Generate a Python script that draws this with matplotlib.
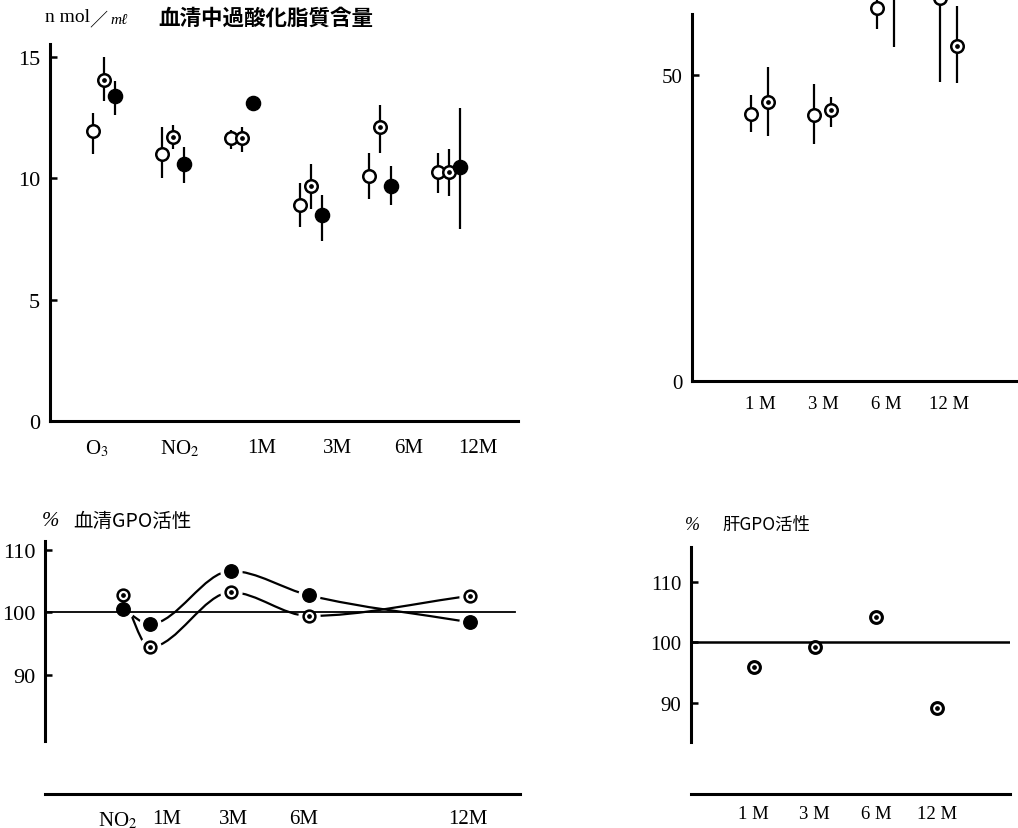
import numpy as np
import matplotlib
matplotlib.use("Agg")
import matplotlib.pyplot as plt
from matplotlib.path import Path
from matplotlib.patches import PathPatch

plt.rcParams['font.family'] = ['Liberation Serif', 'Noto Sans CJK JP']
plt.rcParams['mathtext.fontset'] = 'stix'

# --- data ---
# top-left: serum lipid peroxide (nmol/ml), groups O3, NO2, 1M, 3M, 6M, 12M
lipid_groups = ['O$_3$', 'NO$_2$', '1M', '3M', '6M', '12M']
lipid_open = [11.95, 11.0, 11.65, 8.9, 10.1, 10.25]
lipid_open_hi = [12.7, 12.1, 12.0, 9.8, 11.05, 11.05]
lipid_open_lo = [11.0, 10.0, 11.2, 8.0, 9.15, 9.4]
lipid_dot = [14.05, 11.7, 11.65, 9.7, 12.1, 10.25]
lipid_dot_hi = [15.0, 12.2, 12.1, 10.6, 13.0, 11.2]
lipid_dot_lo = [13.2, 11.2, 11.1, 8.75, 11.05, 9.25]
lipid_fill = [13.4, 10.6, 13.1, 8.5, 9.7, 10.45]
lipid_fill_hi = [14.0, 11.3, np.nan, 9.3, 10.5, 12.9]
lipid_fill_lo = [12.6, 9.8, np.nan, 7.4, 8.9, 7.9]

# top-right: 1M, 3M, 6M, 12M (top part cut off in the scan)
liver_groups = ['1 M', '3 M', '6 M', '12 M']
liver_open = [43.6, 43.5, 61.0, 62.5]
liver_open_hi = [46.7, 48.5, 64.5, 74.0]
liver_open_lo = [40.7, 38.7, 57.5, 48.9]
liver_dot = [45.6, 44.3, 66.0, 54.8]
liver_dot_hi = [51.3, 46.4, 76.0, 61.3]
liver_dot_lo = [40.0, 41.5, 54.6, 48.7]

# bottom-left: serum GPO activity (%)
serum_groups = ['NO$_2$', '1M', '3M', '6M', '12M']
serum_dot = [102.7, 94.4, 103.2, 99.4, 102.6]
serum_fill = [100.5, 98.1, 106.6, 102.7, 98.4]

# bottom-right: liver GPO activity (%)
hep_groups = ['1 M', '3 M', '6 M', '12 M']
hep_dot = [95.9, 99.2, 104.1, 89.1]

W, H = 1018, 829


def px_axes(fig, x0, y0, x1, y1):
    return fig.add_axes([x0 / W, 1 - y1 / H, (x1 - x0) / W, (y1 - y0) / H])


def style(ax, xpad=11, xsize=15, ysize=16):
    for s in ['top', 'right']:
        ax.spines[s].set_visible(False)
    ax.spines['left'].set_linewidth(2.2)
    ax.spines['bottom'].set_linewidth(2.2)
    ax.tick_params(axis='y', direction='in', length=5, width=1.8, pad=7, labelsize=ysize)
    ax.tick_params(axis='x', length=0, pad=xpad, labelsize=xsize)
    ax.patch.set_alpha(0)


def points(ax, x, y, kind, ms=9, mew=1.8):
    if kind == 'fill':
        ax.plot(x, y, 'o', ms=ms + 1.2, color='black', zorder=4)
    else:
        ax.plot(x, y, 'o', ms=ms, mfc='white', mec='black', mew=mew, zorder=4)
        if kind == 'dot':
            ax.plot(x, y, 'o', ms=2.4, color='black', zorder=5)


def bars(ax, x, lo, hi):
    ax.vlines(x, lo, hi, color='black', lw=1.6, zorder=3)


def smooth(ax, xs, ys):
    # hand-drawn looking curve: cubic pieces, flat at peaks and dips
    xs = np.asarray(xs, float)
    ys = np.asarray(ys, float)
    sec = np.diff(ys) / np.diff(xs)
    m = np.zeros(len(xs))
    m[0], m[-1] = sec[0], sec[-1]
    for i in range(1, len(xs) - 1):
        if sec[i - 1] * sec[i] > 0:
            m[i] = (sec[i - 1] + sec[i]) / 2
    verts = [(xs[0], ys[0])]
    codes = [Path.MOVETO]
    for i in range(len(xs) - 1):
        d = (xs[i + 1] - xs[i]) / 3
        verts += [(xs[i] + d, ys[i] + m[i] * d), (xs[i + 1] - d, ys[i + 1] - m[i + 1] * d),
                  (xs[i + 1], ys[i + 1])]
        codes += [Path.CURVE4] * 3
    ax.add_patch(PathPatch(Path(verts, codes), fill=False, lw=1.6, ec='black', zorder=1))


fig = plt.figure(figsize=(W / 100, H / 100), dpi=100)

# --- top-left panel ---
ax1 = px_axes(fig, 50, 45, 518, 422)
style(ax1, xpad=12)
idx = np.arange(len(lipid_groups))
bars(ax1, idx - 0.16, lipid_open_lo, lipid_open_hi)
bars(ax1, idx, lipid_dot_lo, lipid_dot_hi)
bars(ax1, idx + 0.16, lipid_fill_lo, lipid_fill_hi)
points(ax1, idx - 0.16, lipid_open, 'open')
points(ax1, idx, lipid_dot, 'dot')
points(ax1, idx + 0.16, lipid_fill, 'fill')
ax1.set_xlim(-0.78, 6.0)
ax1.set_ylim(0, 15.53)
ax1.set_yticks([0, 5, 10, 15])
ax1.set_xticks(idx + np.array([-0.1, 0.1, 0.29, 0.38, 0.41, 0.42]), lipid_groups)
fig.text(45 / W, 1 - 18 / H, 'n mol', fontsize=14, va='center')
fig.text(89 / W, 1 - 20 / H, '／', fontsize=13, va='center', family='Noto Sans CJK JP')
fig.text(110 / W, 1 - 20 / H, 'mℓ', fontsize=11, va='center', style='italic')
fig.text(158 / W, 1 - 18 / H, '血清中過酸化脂質含量', fontsize=15.5, va='center',
         family='Noto Sans CJK JP', weight='bold')

# --- top-right panel ---
ax2 = px_axes(fig, 692, 0, 1018, 382)
style(ax2, xpad=10, xsize=13.5, ysize=15)
idx2 = np.arange(len(liver_groups))
bars(ax2, idx2 - 0.135, liver_open_lo, liver_open_hi)
bars(ax2, idx2 + 0.135, liver_dot_lo, liver_dot_hi)
points(ax2, idx2 - 0.135, liver_open, 'open')
points(ax2, idx2 + 0.135, liver_dot, 'dot')
ax2.set_xlim(-1.08, 4.10)
ax2.set_ylim(0, 62.4)
ax2.spines['left'].set_bounds(0, 60)
ax2.set_yticks([0, 50])
ax2.set_xticks(idx2, liver_groups)

# --- bottom-left panel ---
ax3 = px_axes(fig, 45, 542, 520, 795)
style(ax3)
serum_slots = np.array([0.0, 0.93, 3.74, 6.44, 12.0])
smooth(ax3, serum_slots, serum_dot)
smooth(ax3, serum_slots, serum_fill)
ax3.plot(serum_slots, serum_dot, 'o', ms=15, color='white', zorder=2)
ax3.plot(serum_slots, serum_fill, 'o', ms=15, color='white', zorder=2)
ax3.axhline(100, xmin=0, xmax=0.99, color='black', lw=1.3, zorder=2.5)
points(ax3, serum_slots, serum_dot, 'dot', ms=8.5)
points(ax3, serum_slots, serum_fill, 'fill', ms=8.5)
ax3.set_xlim(-2.70, 13.74)
ax3.set_ylim(70.9, 111.4)
ax3.spines['left'].set_bounds(79.4, 111.4)
ax3.set_yticks([90, 100, 110])
ax3.set_xticks([-0.17, 1.52, 3.81, 6.26, 11.93], serum_groups)
fig.text(42 / W, 1 - 522 / H, '%', fontsize=15, style='italic', va='center')
fig.text(73 / W, 1 - 522 / H, '血清GPO活性', fontsize=14, va='center',
         family='Noto Sans CJK JP')

# --- bottom-right panel ---
ax4 = px_axes(fig, 691, 548, 1010, 795)
style(ax4, xpad=8, xsize=13.5, ysize=15)
idx4 = np.arange(len(hep_groups))
ax4.axhline(100, color='black', lw=1.8, zorder=2.5)
points(ax4, idx4, hep_dot, 'dot', ms=8.5, mew=2.2)
ax4.set_xlim(-1.03, 4.20)
ax4.set_ylim(74.9, 115.7)
ax4.spines['left'].set_bounds(83.5, 115.7)
ax4.set_yticks([90, 100, 110])
ax4.set_xticks(idx4, hep_groups)
fig.text(685 / W, 1 - 525 / H, '%', fontsize=13, style='italic', va='center')
fig.text(722 / W, 1 - 525 / H, '肝GPO活性', fontsize=12.5, va='center',
         family='Noto Sans CJK JP')

fig.savefig("out.png", dpi=100)
